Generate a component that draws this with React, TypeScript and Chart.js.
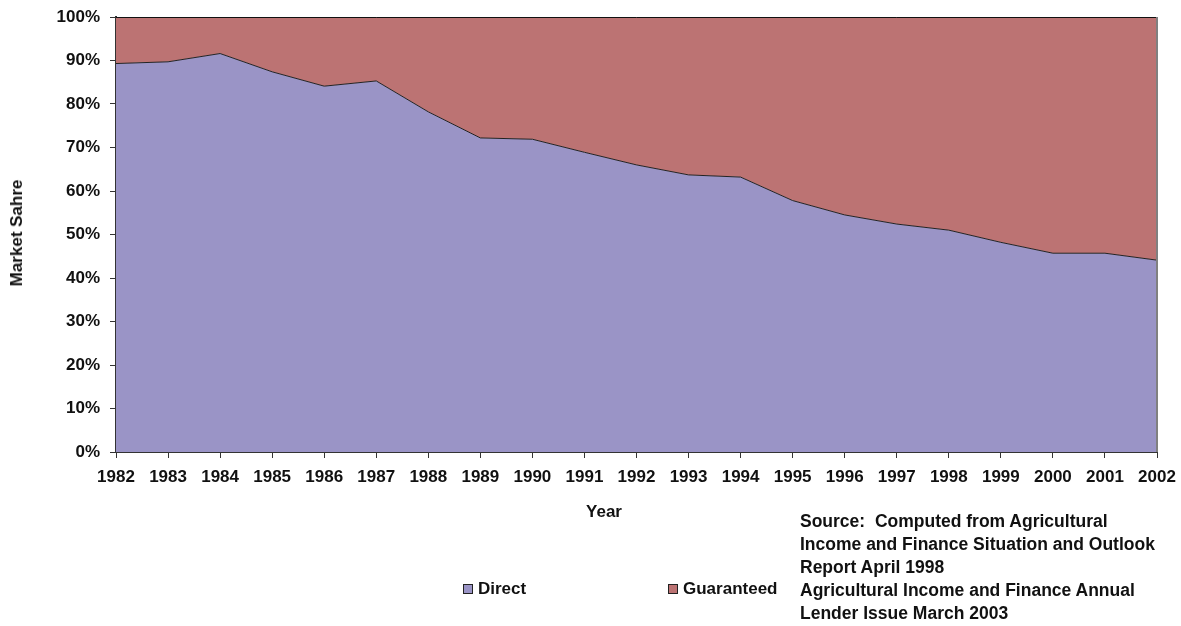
import React, { useEffect, useRef } from "react";
import { Chart, registerables } from "chart.js";

Chart.register(...registerables);

const years = ["1982","1983","1984","1985","1986","1987","1988","1989","1990","1991","1992","1993","1994","1995","1996","1997","1998","1999","2000","2001","2002"];
const directShare = [89.3, 89.7, 91.6, 87.4, 84.1, 85.3, 78.2, 72.2, 71.9, 68.9, 66.0, 63.7, 63.2, 57.8, 54.5, 52.4, 51.0, 48.2, 45.7, 45.7, 44.1];
const guaranteedShare = [10.7, 10.3, 8.4, 12.6, 15.9, 14.7, 21.8, 27.8, 28.1, 31.1, 34.0, 36.3, 36.8, 42.2, 45.5, 47.6, 49.0, 51.8, 54.3, 54.3, 55.9];
const yTicks = [0, 10, 20, 30, 40, 50, 60, 70, 80, 90, 100];
const sourceLines = [
  "Source:  Computed from Agricultural",
  "Income and Finance Situation and Outlook",
  "Report April 1998",
  "Agricultural Income and Finance Annual",
  "Lender Issue March 2003",
];

const DIRECT_COLOR = "#9A94C6";
const GUAR_COLOR = "#BC7373";
const FONT = '"Liberation Sans", Arial, sans-serif';

const borderPlugin = {
  id: "plotBorder",
  afterDatasetsDraw(chart: any) {
    const { ctx, chartArea } = chart;
    ctx.save();
    ctx.strokeStyle = "#111";
    ctx.lineWidth = 1;
    ctx.beginPath();
    ctx.moveTo(chartArea.left, chartArea.top + 0.5);
    ctx.lineTo(chartArea.right, chartArea.top + 0.5);
    ctx.stroke();
    ctx.strokeStyle = "#808080";
    ctx.lineWidth = 2;
    ctx.beginPath();
    ctx.moveTo(chartArea.right, chartArea.top);
    ctx.lineTo(chartArea.right, chartArea.bottom);
    ctx.stroke();
    ctx.restore();
  },
};

export default function App() {
  const ref = useRef<HTMLCanvasElement | null>(null);
  useEffect(() => {
    if (!ref.current) return;
    const chart = new Chart(ref.current, {
      type: "line",
      data: {
        labels: years,
        datasets: [
          {
            label: "Direct",
            data: directShare,
            backgroundColor: DIRECT_COLOR,
            borderColor: "#222",
            borderWidth: 1,
            fill: "origin",
            pointRadius: 0,
            tension: 0,
          },
          {
            label: "Guaranteed",
            data: guaranteedShare,
            backgroundColor: GUAR_COLOR,
            borderColor: "rgba(0,0,0,0)",
            borderWidth: 0,
            fill: "-1",
            pointRadius: 0,
            tension: 0,
          },
        ],
      },
      options: {
        animation: false,
        responsive: false,
        maintainAspectRatio: false,
        layout: { padding: { left: 0, right: 24, top: 17, bottom: 0 } },
        plugins: { legend: { display: false }, tooltip: { enabled: false } },
        scales: {
          x: {
            offset: false,
            grid: { drawOnChartArea: false, drawTicks: true, tickLength: 6, color: "#333", lineWidth: 1 },
            border: { display: true, color: "#333", width: 2 },
            ticks: { color: "#111", font: { family: FONT, size: 17, weight: "bold" }, padding: 9, maxRotation: 0, autoSkip: false },
            afterFit: (s: any) => { s.height = 174; s.paddingLeft = 0; s.paddingRight = 0; },
          },
          y: {
            stacked: true,
            min: 0,
            max: 100,
            afterBuildTicks: (s: any) => { s.ticks = yTicks.map((v) => ({ value: v })); },
            grid: { drawOnChartArea: false, drawTicks: true, tickLength: 6, color: "#333", lineWidth: 1 },
            border: { display: true, color: "#333", width: 2 },
            ticks: { color: "#111", font: { family: FONT, size: 17, weight: "bold" }, padding: 10, callback: (v: any) => v + "%" },
            afterFit: (s: any) => { s.width = 116; s.paddingTop = 0; s.paddingBottom = 0; },
          },
        },
      },
      plugins: [borderPlugin],
    });
    return () => chart.destroy();
  }, []);

  const textStyle: React.CSSProperties = { position: "absolute", fontFamily: FONT, fontWeight: "bold", fontSize: 17, color: "#111", whiteSpace: "pre" };

  return (
    <div style={{ position: "absolute", left: 0, top: 0, width: 1181, height: 626, background: "#fff" }}>
      <canvas ref={ref} width={1181} height={626} style={{ position: "absolute", left: 0, top: 0, width: 1181, height: 626 }} />
      <div style={{ ...textStyle, fontSize: 17, left: 17, top: 233, transform: "translate(-50%,-50%) rotate(-90deg)" }}>Market Sahre</div>
      <div style={{ ...textStyle, left: 604, top: 512, transform: "translate(-50%,-50%)" }}>Year</div>
      <div style={{ position: "absolute", left: 463, top: 584, width: 8, height: 8, background: DIRECT_COLOR, border: "1px solid #222" }} />
      <div style={{ ...textStyle, left: 478, top: 589, transform: "translateY(-50%)" }}>Direct</div>
      <div style={{ position: "absolute", left: 668, top: 584, width: 8, height: 8, background: GUAR_COLOR, border: "1px solid #222" }} />
      <div style={{ ...textStyle, left: 683, top: 589, transform: "translateY(-50%)" }}>Guaranteed</div>
      <div style={{ ...textStyle, fontSize: 17.5, left: 800, top: 510, lineHeight: "23px" }}>
        {sourceLines.map((l, i) => (<div key={i}>{l}</div>))}
      </div>
    </div>
  );
}
